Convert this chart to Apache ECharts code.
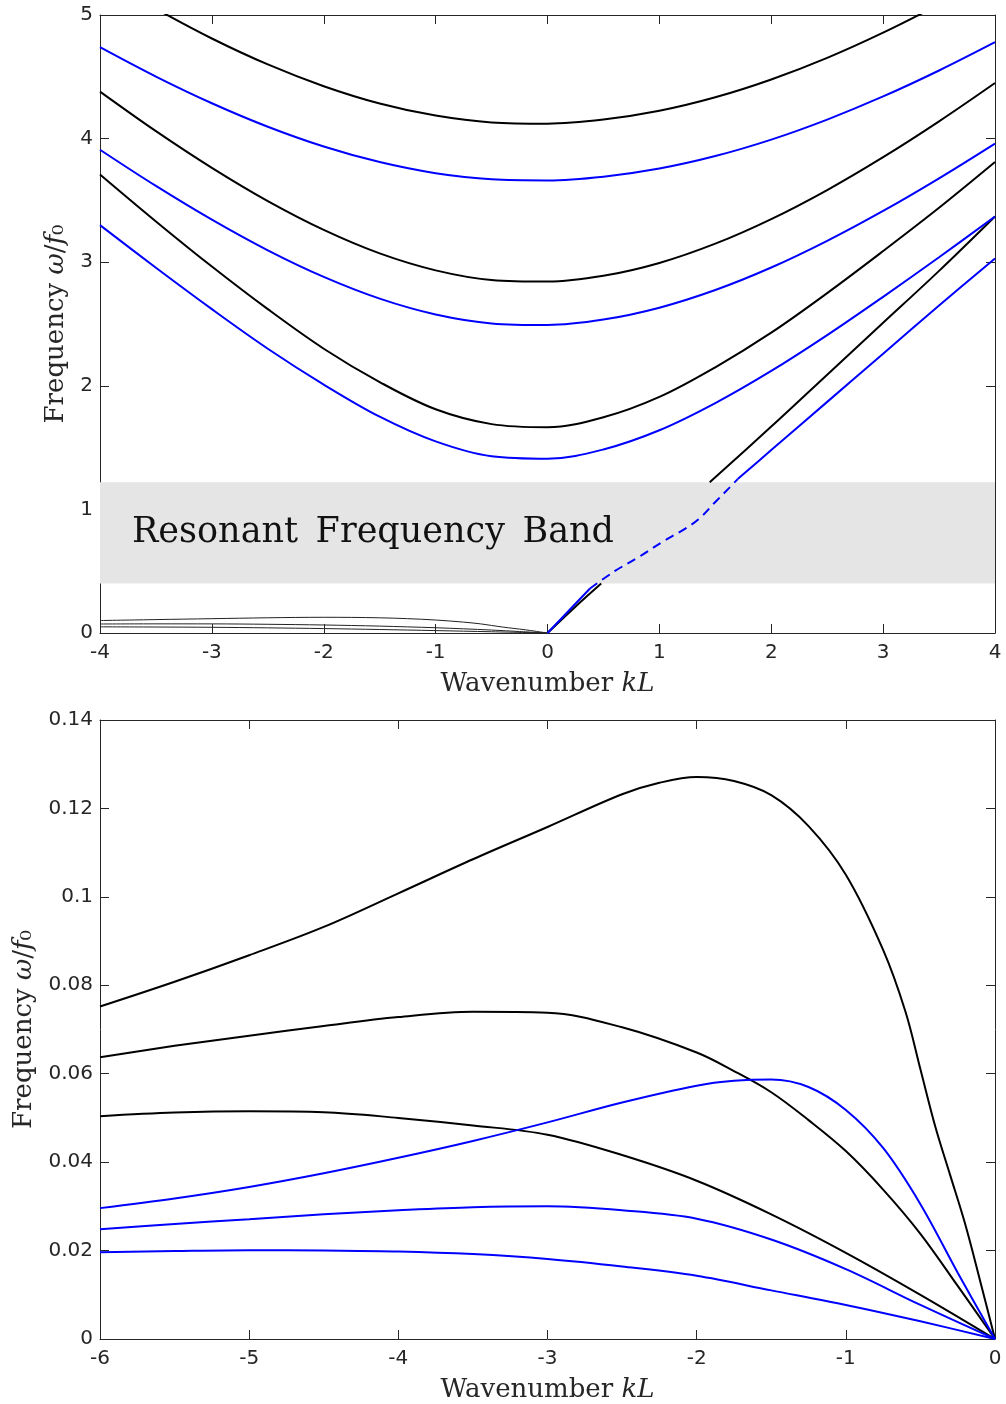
<!DOCTYPE html>
<html>
<head>
<meta charset="utf-8">
<script src="https://cdn.jsdelivr.net/npm/echarts@6/dist/echarts.min.js"></script>
<style>
html,body{margin:0;padding:0;background:#fff;}
#chart{width:1006px;height:1404px;}
</style>
</head>
<body>
<div id="chart"></div>
<script>
// ---------- Top panel data ----------
const topXTicks = [-4, -3, -2, -1, 0, 1, 2, 3, 4];
const topYTicks = [0, 1, 2, 3, 4, 5];
const kTop = [-4, -3.5, -3, -2.5, -2, -1.5, -1, -0.5, 0, 0.5, 1, 1.5, 2, 2.5, 3, 3.5, 4];
// optical branches (blue / black alternating)
const blueA  = [3.30, 2.955, 2.62, 2.30, 2.01, 1.75, 1.55, 1.43, 1.41, 1.485, 1.64, 1.86, 2.12, 2.41, 2.72, 3.04, 3.37];
const blackB = [3.71, 3.33, 2.965, 2.62, 2.30, 2.03, 1.81, 1.69, 1.665, 1.745, 1.91, 2.15, 2.43, 2.75, 3.09, 3.44, 3.81];
const blueC  = [3.91, 3.617, 3.344, 3.096, 2.881, 2.705, 2.577, 2.505, 2.492, 2.536, 2.632, 2.775, 2.957, 3.173, 3.415, 3.679, 3.96];
const blackD = [4.38, 4.06, 3.763, 3.494, 3.261, 3.071, 2.934, 2.856, 2.843, 2.890, 2.994, 3.150, 3.349, 3.584, 3.850, 4.140, 4.45];
const blueE  = [4.74, 4.502, 4.286, 4.096, 3.936, 3.810, 3.720, 3.671, 3.662, 3.692, 3.758, 3.859, 3.992, 4.154, 4.341, 4.551, 4.78];
const blackF = [5.31, 5.05, 4.81, 4.60, 4.424, 4.284, 4.186, 4.131, 4.121, 4.154, 4.225, 4.334, 4.478, 4.653, 4.857, 5.085, 5.33];
// acoustic branches (k > 0)
const kBlackLow  = [0, 0.24, 0.48];
const blackLow   = [0, 0.205, 0.40];
const kBlackHigh = [1.45, 2, 2.5, 3, 3.5, 4];
const blackHigh  = [1.22, 1.67, 2.09, 2.51, 2.93, 3.37];
const kBlueLow   = [0, 0.19, 0.38];
const blueLow    = [0, 0.18, 0.36];
const kBlueDash  = [0.38, 0.6, 0.82, 1.03, 1.21, 1.35, 1.50, 1.62, 1.70];
const blueDash   = [0.36, 0.50, 0.617, 0.739, 0.833, 0.92, 1.06, 1.17, 1.245];
const kBlueHigh  = [1.70, 2, 2.5, 3, 3.5, 4];
const blueHigh   = [1.245, 1.48, 1.87, 2.26, 2.65, 3.03];
// resonant band
const bandLow = 0.40, bandHigh = 1.22;
const bandText = 'Resonant\u2002Frequency\u2002Band';

// ---------- Bottom panel data ----------
const botXTicks = [-6, -5, -4, -3, -2, -1, 0];
const botYTicks = [0, 0.02, 0.04, 0.06, 0.08, 0.1, 0.12, 0.14];
const kBlack1 = [-6, -5.5, -5, -4.5, -4, -3.5, -3, -2.5, -2.25, -2, -1.75, -1.5, -1.25, -1, -0.75, -0.6, -0.5, -0.4, -0.3, -0.2, -0.1, 0];
const black1  = [0.0752, 0.0808, 0.0868, 0.0932, 0.1008, 0.1085, 0.1158, 0.1232, 0.1258, 0.1271, 0.1262, 0.1230, 0.1160, 0.1050, 0.0880, 0.0740, 0.0610, 0.0480, 0.0370, 0.0260, 0.0132, 0];
const kBlack2 = [-6, -5.5, -5, -4.5, -4, -3.5, -3, -2.5, -2, -1.75, -1.5, -1.25, -1, -0.75, -0.5, -0.25, 0];
const black2  = [0.0637, 0.0663, 0.0686, 0.0708, 0.0728, 0.0740, 0.0738, 0.0705, 0.0648, 0.0606, 0.0558, 0.0495, 0.0425, 0.0338, 0.0238, 0.0120, 0];
const kBlack3 = [-6, -5.5, -5, -4.5, -4, -3.5, -3, -2.5, -2, -1.5, -1, -0.5, 0];
const black3  = [0.0504, 0.0512, 0.0515, 0.0513, 0.0500, 0.0483, 0.0462, 0.0416, 0.0358, 0.0282, 0.0195, 0.0100, 0];
const kBlue1 = [-6, -5.5, -5, -4.5, -4, -3.5, -3, -2.5, -2, -1.75, -1.5, -1.25, -1, -0.75, -0.5, -0.25, 0];
const blue1  = [0.0296, 0.0318, 0.0344, 0.0375, 0.0410, 0.0448, 0.0490, 0.0535, 0.0573, 0.0584, 0.0587, 0.0570, 0.0518, 0.0432, 0.0305, 0.0150, 0];
const kBlue2 = [-6, -5.5, -5, -4.5, -4, -3.5, -3, -2.5, -2, -1.5, -1, -0.5, 0];
const blue2  = [0.0248, 0.0260, 0.0271, 0.0282, 0.0291, 0.0298, 0.0300, 0.0291, 0.0272, 0.0225, 0.0158, 0.0077, 0];
const kBlue3 = [-6, -5.5, -5, -4.5, -4, -3.5, -3, -2.5, -2, -1.5, -1, -0.5, 0];
const blue3  = [0.0196, 0.0199, 0.0201, 0.0200, 0.0198, 0.0192, 0.0181, 0.0164, 0.0143, 0.0110, 0.0077, 0.0040, 0];

// ---------- helpers ----------
const AX = '#262626';
const BLUE = '#0000ff';
const BLACK = '#000000';
function pairs(xs, ys) { return xs.map((x, i) => [x, ys[i]]); }
function pairsFrom(xs, ys, xmin) { return pairs(xs, ys).filter(p => p[0] >= xmin); }

const xName = '{r|Wavenumber }{i|kL}';
const yName = '{r|Frequency }{i|\u03c9}{r|/}{i|f}{r|\u2080}';
const nameRich = {
  r: { fontFamily: 'DejaVu Serif', fontSize: 26, color: AX },
  i: { fontFamily: 'DejaVu Serif', fontStyle: 'italic', fontSize: 26, color: AX }
};

function xAxisDef(grid, ticks, pos, withLabels) {
  return {
    type: 'value', gridIndex: grid, position: pos,
    min: ticks[0], max: ticks[ticks.length - 1], interval: ticks[1] - ticks[0],
    axisLine: { show: true, onZero: false, lineStyle: { color: AX, width: 1 } },
    axisTick: { show: true, inside: true, length: 9, lineStyle: { color: AX, width: 1 } },
    axisLabel: { show: withLabels, color: AX, fontFamily: 'DejaVu Sans', fontSize: 20, margin: 10 },
    splitLine: { show: false },
    name: withLabels ? xName : '', nameLocation: 'middle', nameGap: 38,
    nameTextStyle: { rich: nameRich }
  };
}
function yAxisDef(grid, ticks, pos, withLabels, gap) {
  return {
    type: 'value', gridIndex: grid, position: pos,
    min: ticks[0], max: ticks[ticks.length - 1], interval: +(ticks[1] - ticks[0]).toFixed(6),
    axisLine: { show: true, onZero: false, lineStyle: { color: AX, width: 1 } },
    axisTick: { show: true, inside: true, length: 9, lineStyle: { color: AX, width: 1 } },
    axisLabel: { show: withLabels, color: AX, fontFamily: 'DejaVu Sans', fontSize: 20, margin: 7 },
    splitLine: { show: false },
    name: withLabels ? yName : '', nameLocation: 'middle', nameGap: gap || 30,
    nameTextStyle: { rich: nameRich }
  };
}

function line(xi, yi, data, color, width, dash, z) {
  return {
    type: 'line', xAxisIndex: xi, yAxisIndex: yi, data: data,
    showSymbol: false, symbol: 'none', smooth: 0.35,
    lineStyle: { color: color, width: width, type: dash || 'solid', cap: 'butt' },
    itemStyle: { color: color }, silent: true, z: z || 3, animation: false
  };
}

const series = [
  {
    type: 'line', xAxisIndex: 0, yAxisIndex: 0, data: [], z: 1, silent: true,
    markArea: {
      silent: true,
      itemStyle: { color: '#e5e5e5' },
      label: {
        show: true, position: 'insideLeft', distance: 32,
        formatter: bandText, color: '#111', fontFamily: 'DejaVu Serif', fontSize: 35
      },
      data: [[{ xAxis: topXTicks[0], yAxis: bandLow }, { xAxis: topXTicks[topXTicks.length - 1], yAxis: bandHigh }]]
    }
  },
  // top thin low-frequency branches
  line(0, 0, pairsFrom(kBlack1, black1, -4), '#222', 1),
  line(0, 0, pairsFrom(kBlack2, black2, -4), '#222', 1),
  line(0, 0, pairsFrom(kBlack3, black3, -4), '#222', 1),
  // top black branches
  line(0, 0, pairs(kTop, blackB), BLACK, 2),
  line(0, 0, pairs(kTop, blackD), BLACK, 2),
  line(0, 0, pairs(kTop, blackF), BLACK, 2),
  line(0, 0, pairs(kBlackLow, blackLow), BLACK, 2),
  line(0, 0, pairs(kBlackHigh, blackHigh), BLACK, 2),
  // top blue branches
  line(0, 0, pairs(kTop, blueA), BLUE, 2),
  line(0, 0, pairs(kTop, blueC), BLUE, 2),
  line(0, 0, pairs(kTop, blueE), BLUE, 2),
  line(0, 0, pairs(kBlueLow, blueLow), BLUE, 2),
  line(0, 0, pairs(kBlueDash, blueDash), BLUE, 2, [9, 6]),
  line(0, 0, pairs(kBlueHigh, blueHigh), BLUE, 2),
  // bottom panel
  line(2, 2, pairs(kBlack1, black1), BLACK, 2),
  line(2, 2, pairs(kBlack2, black2), BLACK, 2),
  line(2, 2, pairs(kBlack3, black3), BLACK, 2),
  line(2, 2, pairs(kBlue1, blue1), BLUE, 2),
  line(2, 2, pairs(kBlue2, blue2), BLUE, 2),
  line(2, 2, pairs(kBlue3, blue3), BLUE, 2)
];

const chart = echarts.init(document.getElementById('chart'), null, { renderer: 'canvas' });
chart.setOption({
  animation: false,
  backgroundColor: '#ffffff',
  grid: [
    { left: 100, top: 15, width: 895, height: 618, containLabel: false },
    { left: 100, top: 720, width: 895, height: 620, containLabel: false }
  ],
  xAxis: [
    xAxisDef(0, topXTicks, 'bottom', true),
    xAxisDef(0, topXTicks, 'top', false),
    xAxisDef(1, botXTicks, 'bottom', true),
    xAxisDef(1, botXTicks, 'top', false)
  ],
  yAxis: [
    yAxisDef(0, topYTicks, 'left', true, 28),
    yAxisDef(0, topYTicks, 'right', false),
    yAxisDef(1, botYTicks, 'left', true, 60),
    yAxisDef(1, botYTicks, 'right', false)
  ],
  series: series
});
</script>
</body>
</html>
